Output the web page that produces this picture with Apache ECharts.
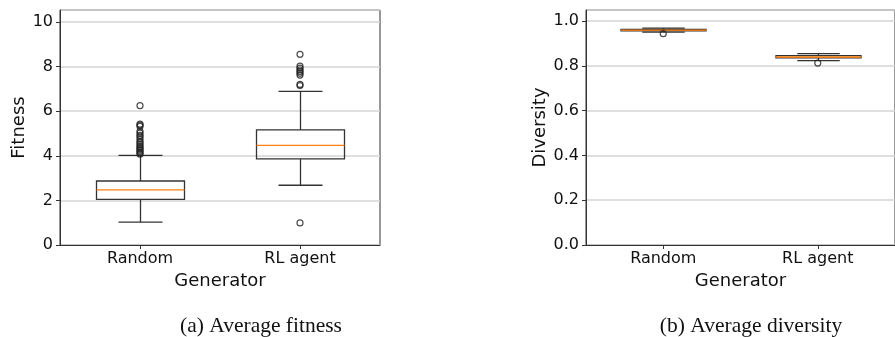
<!DOCTYPE html>
<html>
<head>
<meta charset="utf-8">
<script src="https://cdn.jsdelivr.net/npm/echarts@6/dist/echarts.min.js"></script>
<style>
html,body{margin:0;padding:0;background:#fff;}
#chart{width:895px;height:337px;}
</style>
</head>
<body>
<div id="chart"></div>
<script>
// ---- data ----
const categories = ['Random', 'RL agent'];
// [lower whisker, Q1, median, Q3, upper whisker]
const fitnessRandom = [1.03, 2.05, 2.47, 2.87, 4.02];
const fitnessRL = [2.68, 3.86, 4.47, 5.16, 6.89];
const fitnessOutliersRandom = [6.25, 5.42, 5.38, 5.32, 5.1, 5.02, 4.92, 4.85, 4.75, 4.65, 4.58, 4.5, 4.42, 4.36, 4.3, 4.24, 4.18, 4.12, 4.07];
const fitnessOutliersRL = [8.55, 8.02, 7.93, 7.85, 7.78, 7.7, 7.62, 7.2, 7.15, 0.99];
const diversityRandom = [0.951, 0.957, 0.960, 0.963, 0.969];
const diversityRL = [0.824, 0.836, 0.840, 0.846, 0.855];
const diversityOutliersRandom = [0.944];
const diversityOutliersRL = [0.813];
const fitnessTicks = [0, 2, 4, 6, 8, 10];
const diversityTicks = [0.0, 0.2, 0.4, 0.6, 0.8, 1.0];
const captions = ['(a) Average fitness', '(b) Average diversity'];

// ---- styling ----
const FRAME = '#333';
const GRIDC = '#d4d4d4';
const MEDIAN = '#ff7f0e';
const BOXC = '#333';
const TICKF = {fontFamily: 'DejaVu Sans', fontSize: 16, color: '#111'};

function renderBox(params, api) {
  const x = api.value(0);
  const lo = api.coord([x, api.value(1)]);
  const q1 = api.coord([x, api.value(2)]);
  const md = api.coord([x, api.value(3)]);
  const q3 = api.coord([x, api.value(4)]);
  const hi = api.coord([x, api.value(5)]);
  const band = api.size([1, 0])[0];
  const cx = Math.round(lo[0]) + 0.5;
  const hw = band * 0.275;
  const cw = hw / 2;
  const ls = {stroke: BOXC, lineWidth: 1.3, fill: null};
  return {
    type: 'group',
    children: [
      {type: 'line', shape: {x1: cx, y1: q1[1], x2: cx, y2: lo[1]}, style: ls},
      {type: 'line', shape: {x1: cx, y1: q3[1], x2: cx, y2: hi[1]}, style: ls},
      {type: 'line', shape: {x1: cx - cw, y1: lo[1], x2: cx + cw, y2: lo[1]}, style: ls},
      {type: 'line', shape: {x1: cx - cw, y1: hi[1], x2: cx + cw, y2: hi[1]}, style: ls},
      {type: 'rect', shape: {x: cx - hw, y: q3[1], width: 2 * hw, height: q1[1] - q3[1]}, style: ls},
      {type: 'line', shape: {x1: cx - hw, y1: md[1], x2: cx + hw, y2: md[1]}, style: {stroke: MEDIAN, lineWidth: 1.3}}
    ]
  };
}

function boxData(a, b) {
  return [[0].concat(a), [1].concat(b)];
}
function outlierData(a, b) {
  return a.map(v => [0, v]).concat(b.map(v => [1, v]));
}

function xAxisDef(gi) {
  return {
    type: 'category', gridIndex: gi, data: categories,
    name: 'Generator', nameLocation: 'middle', nameGap: 27,
    nameTextStyle: {fontFamily: 'DejaVu Sans', fontSize: 18, color: '#111'},
    axisLine: {show: true, lineStyle: {color: FRAME, width: 1}},
    axisTick: {show: true, alignWithLabel: true, length: 4, lineStyle: {color: FRAME}},
    axisLabel: Object.assign({margin: 6}, TICKF),
    splitLine: {show: false}
  };
}

const option = {
  animation: false,
  backgroundColor: '#fff',
  grid: [
    {left: 60, top: 10, width: 320, height: 235, show: true, borderColor: FRAME, borderWidth: 1, backgroundColor: 'transparent'},
    {left: 586, top: 10, width: 320, height: 235, show: true, borderColor: FRAME, borderWidth: 1, backgroundColor: 'transparent'}
  ],
  xAxis: [xAxisDef(0), xAxisDef(1)],
  yAxis: [
    {
      type: 'value', gridIndex: 0, min: 0, max: 10.54, interval: 2,
      name: 'Fitness', nameLocation: 'middle', nameGap: 31,
      nameTextStyle: {fontFamily: 'DejaVu Sans', fontSize: 18, color: '#111'},
      axisLine: {show: true, lineStyle: {color: FRAME}},
      axisTick: {show: true, length: 4, lineStyle: {color: FRAME}},
      axisLabel: Object.assign({margin: 7, showMaxLabel: false,
        formatter: v => fitnessTicks.indexOf(v) >= 0 ? String(v) : ''}, TICKF),
      splitLine: {show: true, lineStyle: {color: GRIDC, width: 1.5}}
    },
    {
      type: 'value', gridIndex: 1, min: 0, max: 1.05, interval: 0.2,
      name: 'Diversity', nameLocation: 'middle', nameGap: 37,
      nameTextStyle: {fontFamily: 'DejaVu Sans', fontSize: 18, color: '#111'},
      axisLine: {show: true, lineStyle: {color: FRAME}},
      axisTick: {show: true, length: 4, lineStyle: {color: FRAME}},
      axisLabel: Object.assign({margin: 7, showMaxLabel: false,
        formatter: v => {
          const hit = diversityTicks.find(t => Math.abs(t - v) < 1e-9);
          return hit === undefined ? '' : hit.toFixed(1);
        }}, TICKF),
      splitLine: {show: true, lineStyle: {color: GRIDC, width: 1.5}}
    }
  ],
  series: [
    {
      type: 'custom', xAxisIndex: 0, yAxisIndex: 0, renderItem: renderBox,
      encode: {x: 0, y: [1, 2, 3, 4, 5]}, data: boxData(fitnessRandom, fitnessRL), silent: true
    },
    {
      type: 'scatter', xAxisIndex: 0, yAxisIndex: 0, symbol: 'circle', symbolSize: 6,
      itemStyle: {color: 'rgba(0,0,0,0)', borderColor: '#222', borderWidth: 1.2},
      data: outlierData(fitnessOutliersRandom, fitnessOutliersRL), silent: true
    },
    {
      type: 'custom', xAxisIndex: 1, yAxisIndex: 1, renderItem: renderBox,
      encode: {x: 0, y: [1, 2, 3, 4, 5]}, data: boxData(diversityRandom, diversityRL), silent: true
    },
    {
      type: 'scatter', xAxisIndex: 1, yAxisIndex: 1, symbol: 'circle', symbolSize: 6,
      itemStyle: {color: 'rgba(0,0,0,0)', borderColor: '#222', borderWidth: 1.2},
      data: outlierData(diversityOutliersRandom, diversityOutliersRL), silent: true
    }
  ],
  graphic: [
    {type: 'text', x: 261, y: 326, style: {text: captions[0], font: '21.5px "Liberation Serif"', fill: '#111', textAlign: 'center', textVerticalAlign: 'middle'}},
    {type: 'text', x: 751, y: 326, style: {text: captions[1], font: '21.5px "Liberation Serif"', fill: '#111', textAlign: 'center', textVerticalAlign: 'middle'}}
  ]
};

const chart = echarts.init(document.getElementById('chart'), null, {renderer: 'canvas'});
chart.setOption(option);
</script>
</body>
</html>
